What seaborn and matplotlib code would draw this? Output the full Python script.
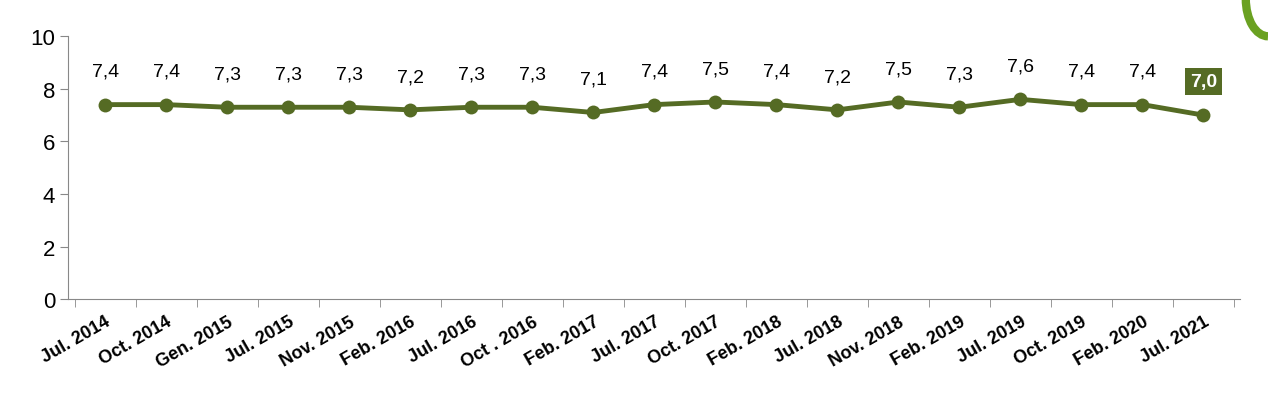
import matplotlib
matplotlib.use("Agg")
import matplotlib.pyplot as plt
import seaborn as sns
import pandas as pd
from matplotlib.patches import Arc

periods = ["Jul. 2014", "Oct. 2014", "Gen. 2015", "Jul. 2015", "Nov. 2015", "Feb. 2016",
           "Jul. 2016", "Oct . 2016", "Feb. 2017", "Jul. 2017", "Oct. 2017", "Feb. 2018",
           "Jul. 2018", "Nov. 2018", "Feb. 2019", "Jul. 2019", "Oct. 2019", "Feb. 2020",
           "Jul. 2021"]
scores = [7.4, 7.4, 7.3, 7.3, 7.3, 7.2, 7.3, 7.3, 7.1, 7.4, 7.5, 7.4, 7.2, 7.5, 7.3, 7.6,
          7.4, 7.4, 7.0]

green = "#556b24"
df = pd.DataFrame({"x": range(len(periods)), "score": scores})

sns.set_style("white")
plt.rcParams["font.family"] = ["Liberation Sans", "DejaVu Sans"]
fig, ax = plt.subplots(figsize=(12.68, 4.14), dpi=100)
fig.subplots_adjust(left=0.054, right=0.978, top=0.91, bottom=0.275)

sns.lineplot(data=df, x="x", y="score", color=green, lw=3.5, marker="o",
             markersize=10, markeredgewidth=0, ax=ax)

for i, v in enumerate(scores):
    lbl = f"{v:.1f}".replace(".", ",")
    if i == len(scores) - 1:
        ax.annotate(lbl, (i, v), xytext=(0, 24), textcoords="offset points", ha="center",
                    va="center", fontsize=14, color="white", fontweight="bold",
                    bbox=dict(boxstyle="square,pad=0.25", fc=green, ec="none"))
    else:
        ax.annotate(lbl, (i, v), xytext=(0, 24), textcoords="offset points", ha="center",
                    va="center", fontsize=14, color="black")

ax.set_xlim(-0.6, len(periods) - 0.4)
ax.set_ylim(0, 10)
ax.set_yticks(range(0, 11, 2))
ax.set_xticks(range(len(periods)))
ax.set_xticklabels(periods, rotation=30, ha="right", rotation_mode="anchor",
                   fontsize=13, fontweight="bold", color="black")
ax.set_xticks([i + 0.5 for i in range(-1, len(periods))], minor=True)
ax.tick_params(axis="x", which="major", length=0, pad=10)
ax.tick_params(axis="x", which="minor", length=6, color="#888888", direction="out",
               bottom=True)
ax.tick_params(axis="y", labelsize=16, length=6, color="#888888", direction="out",
               left=True, labelcolor="black")
ax.set_xlabel("")
ax.set_ylabel("")
for s in ["top", "right"]:
    ax.spines[s].set_visible(False)
ax.spines["left"].set_color("#888888")
ax.spines["bottom"].set_color("#888888")

# decorative green ring at top-right corner
fig.patches.append(Arc((1.0, 1.0), 0.035, 0.18, theta1=180, theta2=270,
                       transform=fig.transFigure, color="#6aa121", lw=6))

fig.savefig("out.png", dpi=100)
